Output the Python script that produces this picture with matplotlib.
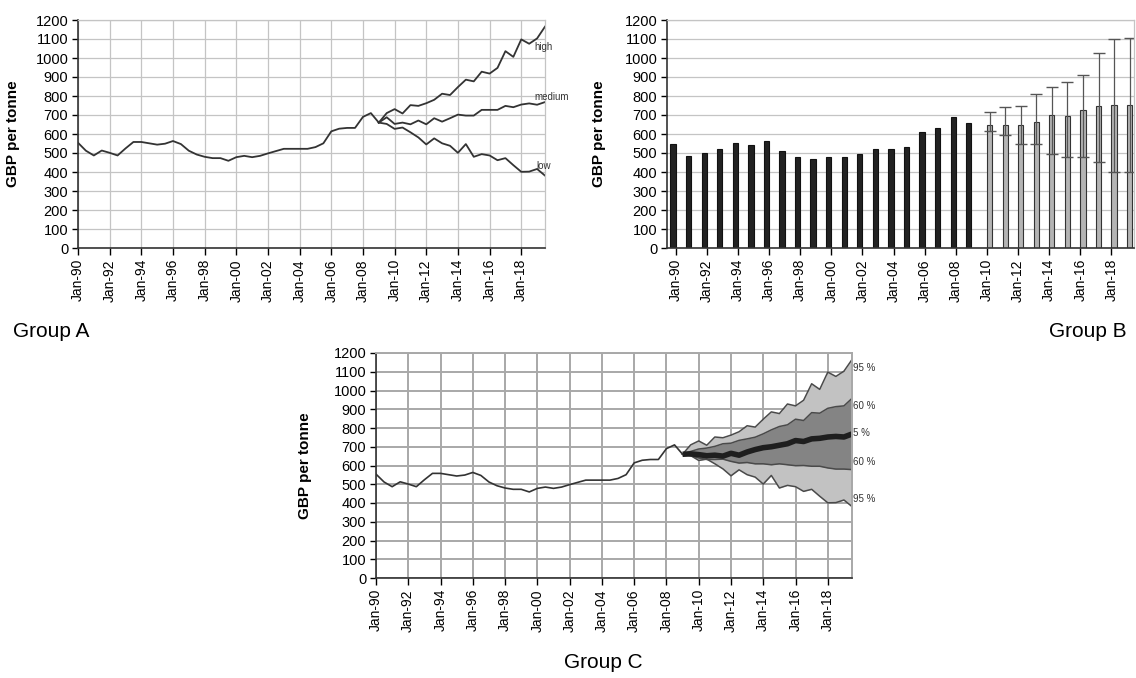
import matplotlib.pyplot as plt
import numpy as np

plt.rcParams['font.family'] = ['Liberation Sans', 'DejaVu Sans']

# half-year time axis, Jan-90 .. Jul-19
half_years = np.arange(1990, 2019.51, 0.5)
x_base = half_years[:39]
x_fc = half_years[38:]

# historic price, GBP per tonne
base = [554, 512, 487, 513, 501, 487, 524, 558, 558, 551, 544, 549, 563, 547,
        512, 492, 480, 473, 473, 459, 478, 485, 478, 485, 498, 510, 522, 522,
        522, 522, 531, 551, 614, 628, 632, 632, 690, 710, 660]

# scenarios from Jan-09
high = [660, 710, 731, 708, 752, 748, 762, 780, 812, 805, 847, 886, 877, 928,
        918, 948, 1036, 1006, 1098, 1075, 1103, 1165]
medium = [660, 688, 653, 660, 651, 671, 651, 683, 665, 683, 702, 697, 697, 727,
          727, 727, 748, 741, 755, 761, 754, 768]
low = [660, 653, 627, 634, 609, 582, 545, 577, 551, 538, 501, 547, 480, 494,
       487, 462, 473, 436, 401, 402, 416, 381]

# fan chart bands (group C)
upper60 = [660, 675, 688, 693, 702, 716, 719, 734, 742, 751, 769, 790, 808, 817,
           847, 840, 882, 879, 905, 914, 918, 958]
lower60 = [660, 652, 640, 632, 632, 634, 622, 613, 616, 609, 609, 604, 609, 604,
           599, 600, 596, 596, 587, 581, 581, 578]
median_c = [660, 662, 658, 652, 655, 650, 665, 655, 672, 685, 695, 700, 708, 716,
            733, 728, 742, 745, 752, 755, 752, 768]

# annual bars (group B)
bar_hist = [547, 485, 498, 522, 554, 542, 561, 510, 478, 471, 478, 478, 496, 522,
            522, 529, 612, 632, 688, 656]
bar_fc = [649, 649, 649, 663, 700, 695, 727, 745, 752, 752]
err_hi = [715, 741, 748, 808, 845, 874, 911, 1025, 1098, 1105]
err_lo = [618, 597, 545, 545, 494, 477, 477, 454, 401, 402]

tick_years = list(range(1990, 2019, 2))
tick_labels = ["Jan-%02d" % (y % 100) for y in tick_years]
yticks = list(range(0, 1201, 100))

W, H = 1136, 678
fig = plt.figure(figsize=(W / 100, H / 100), dpi=100)


def box(l, t, r, b):
    return [l / W, 1 - b / H, (r - l) / W, (b - t) / H]


def style(ax, gridcol, gridlw, vgrid=True):
    ax.set_ylim(0, 1200)
    ax.set_yticks(yticks)
    ax.tick_params(axis='y', labelsize=10.5, length=4, width=1, direction='out', pad=3)
    ax.tick_params(axis='x', labelsize=10, length=5, width=1, direction='out',
                   pad=3, labelrotation=90)
    ax.grid(axis='y', color=gridcol, lw=gridlw)
    if vgrid:
        ax.grid(axis='x', color=gridcol, lw=gridlw)
    ax.set_axisbelow(True)
    for s in ('top', 'right'):
        ax.spines[s].set_color(gridcol)
        ax.spines[s].set_linewidth(gridlw)
    for s in ('left', 'bottom'):
        ax.spines[s].set_color('#333333')
        ax.spines[s].set_linewidth(1.2)
    ax.set_ylabel("GBP per tonne", fontsize=11, fontweight='bold')


# ---- Group A: scenario lines
axA = fig.add_axes(box(78, 20, 545, 248))
axA.plot(x_base, base, color='#333333', lw=1.3)
for s in (high, medium, low):
    axA.plot(x_fc, s, color='#333333', lw=1.3)
axA.set_xlim(1990, 2019.5)
axA.set_xticks(tick_years)
axA.set_xticklabels(tick_labels)
style(axA, '#c4c4c4', 0.9)
axA.yaxis.set_label_coords(-0.125, 0.5)
axA.text(2018.85, 1058, "high", fontsize=7, color='#333333', va='center')
axA.text(2018.85, 795, "medium", fontsize=7, color='#333333', va='center', clip_on=False)
axA.text(2018.95, 432, "low", fontsize=7, color='#333333', va='center')

# ---- Group B: annual bars with ranges
axB = fig.add_axes(box(667, 20, 1134, 248))
xi_hist = np.arange(len(bar_hist))
xi_fc = np.arange(len(bar_hist), len(bar_hist) + len(bar_fc))
bw = 0.34
axB.bar(xi_hist - bw / 2, bar_hist, width=bw, color='#222222', edgecolor='#111111', lw=0.8)
axB.bar(xi_fc + bw / 2, bar_fc, width=bw, color='#b4b4b4', edgecolor='#333333', lw=0.8)
axB.errorbar(xi_fc + bw / 2, bar_fc,
             yerr=[np.array(bar_fc) - np.array(err_lo), np.array(err_hi) - np.array(bar_fc)],
             fmt='none', ecolor='#555555', elinewidth=0.9, capsize=4, capthick=1)
axB.set_xlim(-0.56, 29.45)
axB.set_xticks(np.arange(0, 30, 2))
axB.set_xticklabels(tick_labels)
style(axB, '#c4c4c4', 0.9, vgrid=False)
axB.yaxis.set_label_coords(-0.13, 0.5)

# ---- Group C: fan chart
axC = fig.add_axes(box(376, 353, 852, 578))
axC.fill_between(x_fc, low, high, color='#c2c2c2', lw=0)
axC.fill_between(x_fc, lower60, upper60, color='#848484', lw=0)
for s in (high, low, upper60, lower60):
    axC.plot(x_fc, s, color='#4a4a4a', lw=1.1)
axC.plot(x_fc, median_c, color='#1e1e1e', lw=4, solid_capstyle='butt')
axC.plot(x_base, base, color='#333333', lw=1.2)
axC.set_xlim(1990, 2019.5)
axC.set_xticks(tick_years)
axC.set_xticklabels(tick_labels)
style(axC, '#a8a8a8', 1.4)
axC.yaxis.set_label_coords(-0.135, 0.5)
for lab, v in (("95 %", 1121), ("60 %", 917), ("5 %", 775), ("60 %", 620), ("95 %", 421)):
    axC.text(1.003, v, lab, transform=axC.get_yaxis_transform(), fontsize=7,
             color='#333333', va='center', ha='left')

# ---- group captions
fig.text(13 / W, 1 - 331 / H, "Group A", fontsize=15, va='center', ha='left')
fig.text(1127 / W, 1 - 331 / H, "Group B", fontsize=15, va='center', ha='right')
fig.text(603 / W, 1 - 662 / H, "Group C", fontsize=15, va='center', ha='center')

fig.savefig("out.png", dpi=100)
